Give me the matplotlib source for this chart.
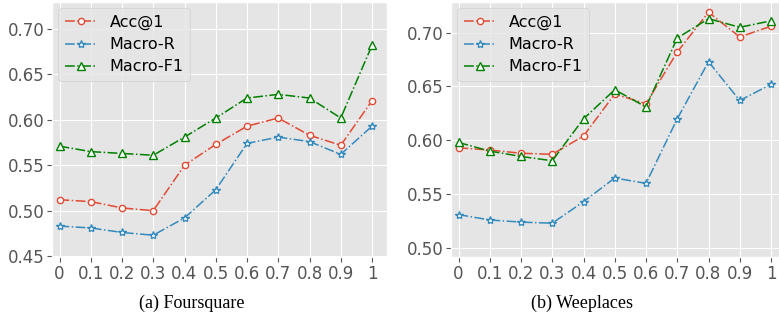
import matplotlib
matplotlib.use('Agg')
import matplotlib.pyplot as plt

plt.style.use('ggplot')

# data
ratios = [0, 0.1, 0.2, 0.3, 0.4, 0.5, 0.6, 0.7, 0.8, 0.9, 1]
tick_labels = ['0', '0.1', '0.2', '0.3', '0.4', '0.5', '0.6', '0.7', '0.8', '0.9', '1']

fs_acc = [0.512, 0.510, 0.503, 0.500, 0.550, 0.573, 0.593, 0.602, 0.583, 0.572, 0.621]
fs_recall = [0.483, 0.481, 0.476, 0.473, 0.492, 0.523, 0.574, 0.581, 0.576, 0.562, 0.593]
fs_f1 = [0.571, 0.565, 0.563, 0.561, 0.581, 0.602, 0.624, 0.628, 0.624, 0.602, 0.682]

wp_acc = [0.593, 0.591, 0.588, 0.587, 0.604, 0.643, 0.634, 0.682, 0.719, 0.696, 0.706]
wp_recall = [0.531, 0.526, 0.524, 0.523, 0.543, 0.565, 0.560, 0.620, 0.673, 0.637, 0.652]
wp_f1 = [0.598, 0.590, 0.585, 0.581, 0.620, 0.647, 0.631, 0.695, 0.713, 0.705, 0.711]

fig = plt.figure(figsize=(7.79, 3.23), dpi=100)
W, H = 779, 323

panels = [
    ('(a) Foursquare', fs_acc, fs_recall, fs_f1, 52, (0.449, 0.7297),
     [0.45, 0.50, 0.55, 0.60, 0.65, 0.70], 192),
    ('(b) Weeplaces', wp_acc, wp_recall, wp_f1, 451, (0.4916, 0.7285),
     [0.50, 0.55, 0.60, 0.65, 0.70], 582),
]

for caption, acc, rec, f1, x0, ylim, yticks, cap_x in panels:
    ax = fig.add_axes([x0 / W, (H - 257) / H, 335 / W, 255 / H])
    ax.plot(ratios, acc, '-.', color='#E24A33', marker='o', ms=4.5,
            mfc='white', mew=1, lw=1.1, label='Acc@1')
    ax.plot(ratios, rec, '-.', color='#348ABD', marker='*', ms=6,
            mfc='white', mew=1, lw=1.1, label='Macro-R')
    ax.plot(ratios, f1, '-.', color='#008000', marker='^', ms=6,
            mfc='white', mew=1, lw=1.1, label='Macro-F1')
    ax.set_xlim(-0.024, 1.048)
    ax.set_ylim(*ylim)
    ax.set_xticks(ratios)
    ax.set_xticklabels(tick_labels)
    ax.set_yticks(yticks)
    ax.set_yticklabels(['%.2f' % v for v in yticks])
    ax.tick_params(labelsize=12, colors='#555555', pad=2)
    ax.legend(loc='upper left', fontsize=11.5, handlelength=2.0,
              labelspacing=0.45, handletextpad=0.8, borderaxespad=0.4)
    fig.text(cap_x / W, (H - 303) / H, caption, ha='center', va='center',
             family='Liberation Serif', fontsize=13)

fig.savefig('out.png', dpi=100)
